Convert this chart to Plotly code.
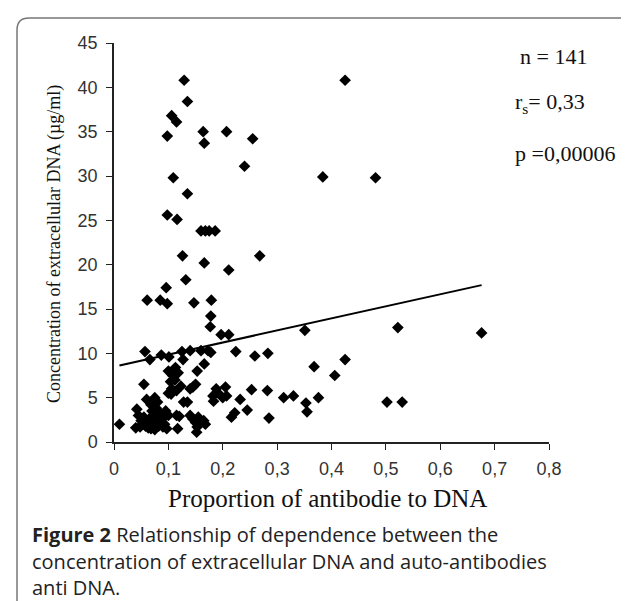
import plotly.graph_objects as go

# ---- data ----
antibody_proportion = [
    0.129, 0.425, 0.135, 0.106, 0.115, 0.098, 0.164, 0.166, 0.207, 0.255,
    0.240, 0.109, 0.384, 0.481, 0.135, 0.098, 0.116, 0.160, 0.168, 0.175,
    0.186, 0.126, 0.166, 0.268, 0.211, 0.132, 0.096, 0.061, 0.085, 0.098,
    0.147, 0.179, 0.178, 0.177, 0.197, 0.211, 0.351, 0.522, 0.676,
    0.224, 0.259, 0.283, 0.057, 0.066, 0.087, 0.101, 0.125, 0.127, 0.140,
    0.160, 0.173, 0.178, 0.166, 0.153, 0.368, 0.425, 0.406,
    0.100, 0.108, 0.113, 0.118, 0.112, 0.104,
    0.055, 0.145, 0.150, 0.140, 0.123, 0.100, 0.106, 0.115, 0.253, 0.282,
    0.205, 0.188, 0.182, 0.190, 0.207, 0.200, 0.232, 0.312, 0.330, 0.353,
    0.355, 0.376, 0.502, 0.530, 0.128, 0.135, 0.183,
    0.060, 0.068, 0.075, 0.080, 0.070, 0.078, 0.085, 0.042, 0.045, 0.050,
    0.055, 0.060, 0.065, 0.040, 0.048, 0.058, 0.068, 0.072, 0.078, 0.082,
    0.088, 0.092, 0.095, 0.100, 0.090, 0.097, 0.075, 0.063, 0.085, 0.093,
    0.117, 0.115, 0.120, 0.070, 0.080, 0.052,
    0.140, 0.145, 0.150, 0.155, 0.160, 0.165, 0.152, 0.153, 0.010, 0.216,
    0.222, 0.245, 0.285, 0.168, 0.105,
]
dna_concentration = [
    40.8, 40.8, 38.4, 36.8, 36.1, 34.5, 35.0, 33.7, 35.0, 34.2,
    31.1, 29.8, 29.9, 29.8, 28.0, 25.6, 25.1, 23.8, 23.8, 23.8,
    23.8, 21.0, 20.2, 21.0, 19.4, 18.3, 17.4, 16.0, 16.0, 15.6,
    15.7, 16.0, 14.2, 13.0, 12.1, 12.1, 12.6, 12.9, 12.3,
    10.2, 9.7, 10.0, 10.2, 9.3, 9.8, 9.6, 10.2, 9.3, 10.3,
    10.3, 10.3, 10.1, 8.8, 8.0, 8.5, 9.3, 7.5,
    8.0, 7.5, 8.4, 7.8, 7.0, 6.8,
    6.5, 6.2, 6.5, 6.0, 6.3, 5.5, 6.0, 5.8, 5.9, 5.8,
    6.2, 6.0, 5.2, 5.6, 5.2, 5.0, 4.8, 5.0, 5.2, 4.4,
    3.4, 5.0, 4.5, 4.5, 4.5, 4.5, 4.6,
    4.8, 4.2, 5.0, 4.5, 3.5, 3.8, 3.2, 3.7, 3.0, 2.4,
    2.8, 2.2, 2.6, 1.6, 1.7, 1.8, 1.5, 2.0, 2.5, 1.8,
    2.2, 2.8, 3.5, 3.0, 1.7, 1.5, 1.4, 1.6, 2.8, 2.0,
    1.5, 3.0, 2.9, 2.9, 3.3, 2.0,
    3.0, 2.6, 2.2, 2.8, 2.2, 2.4, 1.1, 1.7, 2.0, 2.8,
    3.3, 3.6, 2.7, 2.0, 5.4,
]
trend_intercept = 8.5
trend_slope = 13.6

x_tick_values = [0, 0.1, 0.2, 0.3, 0.4, 0.5, 0.6, 0.7, 0.8]
x_tick_labels = ["0", "0,1", "0,2", "0,3", "0,4", "0,5", "0,6", "0,7", "0,8"]
y_tick_values = [0, 5, 10, 15, 20, 25, 30, 35, 40, 45]

stats_lines = ["n = 141", "r<sub>s</sub>= 0,33", "p =0,00006"]
caption_lines = [
    "<b>Figure 2</b> Relationship of dependence between the",
    "concentration of extracellular DNA and auto-antibodies",
    "anti DNA.",
]

# ---- layout geometry (pixels) ----
W, H = 629, 601
L, R, T, B = 106, 88, 35, 167
pw, ph = W - L - R, H - T - B


def px(x):
    return (x - L) / pw


def py(y):
    return (H - B - y) / ph


serif = "Liberation Serif, Times New Roman, serif"
sans = "Liberation Sans, Arial, sans-serif"

trend_x = [min(antibody_proportion), max(antibody_proportion)]
trend_y = [trend_intercept + trend_slope * v for v in trend_x]

fig = go.Figure()
fig.add_trace(go.Scatter(
    x=trend_x, y=trend_y, mode="lines",
    line=dict(color="black", width=2), hoverinfo="skip", showlegend=False,
))
fig.add_trace(go.Scatter(
    x=antibody_proportion, y=dna_concentration, mode="markers",
    marker=dict(symbol="diamond", size=9, color="black"),
    showlegend=False, cliponaxis=False,
))

annotations = []
annotations.append(dict(
    text="Concentration of extracellular DNA (µg/ml)", textangle=-90,
    x=px(46), y=py(236), xref="paper", yref="paper", showarrow=False,
    xanchor="center", yanchor="middle",
    font=dict(family=serif, size=18, color="#111"),
))
annotations.append(dict(
    text="Proportion of antibodie to DNA",
    x=px(319), y=py(490), xref="paper", yref="paper", showarrow=False,
    xanchor="center", yanchor="middle",
    font=dict(family=serif, size=25, color="#111"),
))
for txt, xx, yy in zip(stats_lines, [510, 505, 505], [48, 95, 145]):
    annotations.append(dict(
        text=txt, x=px(xx), y=py(yy), xref="paper", yref="paper",
        showarrow=False, xanchor="left", yanchor="middle",
        font=dict(family=serif, size=22, color="#111"),
    ))
for txt, yy in zip(caption_lines, [526, 553, 579]):
    annotations.append(dict(
        text=txt, x=px(23), y=py(yy), xref="paper", yref="paper",
        showarrow=False, xanchor="left", yanchor="middle", borderpad=0,
        font=dict(family="Open Sans, Noto Sans, sans-serif", size=20, color="#222"),
    ))

# rounded card border
x0, x1, y0, y1, r = 9, 626, 10, 640, 12
path = (f"M {px(x0)},{py(y0 + r)} "
        f"Q {px(x0)},{py(y0)} {px(x0 + r)},{py(y0)} "
        f"L {px(x1 - r)},{py(y0)} "
        f"Q {px(x1)},{py(y0)} {px(x1)},{py(y0 + r)} "
        f"L {px(x1)},{py(y1)} L {px(x0)},{py(y1)} Z")

fig.update_layout(
    width=W, height=H,
    margin=dict(l=L, r=R, t=T, b=B, autoexpand=False),
    paper_bgcolor="white", plot_bgcolor="white",
    annotations=annotations,
    shapes=[dict(type="path", path=path, xref="paper", yref="paper",
                 line=dict(color="#777", width=1.5), layer="below")],
    xaxis=dict(
        range=[0, 0.8], tickvals=x_tick_values, ticktext=x_tick_labels,
        showgrid=False, zeroline=False, showline=True, linecolor="#222",
        linewidth=1.5, ticks="outside", ticklen=6, tickcolor="#222",
        ticklabelstandoff=4,
        tickfont=dict(family=sans, size=18, color="#333"),
    ),
    yaxis=dict(
        range=[0, 45], tickvals=y_tick_values,
        showgrid=False, zeroline=False, showline=True, linecolor="#222",
        linewidth=1.5, ticks="outside", ticklen=6, tickcolor="#222",
        ticklabelstandoff=5,
        tickfont=dict(family=sans, size=18, color="#333"),
    ),
)

fig.write_html("out.html")
